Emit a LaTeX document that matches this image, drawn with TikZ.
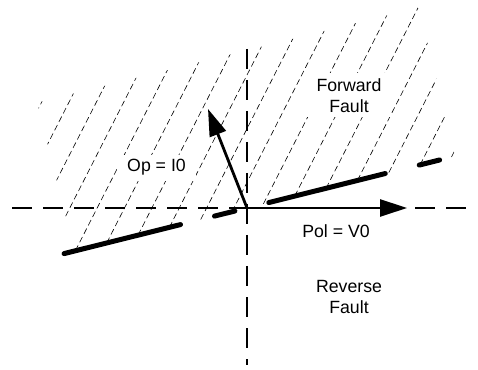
\documentclass[tikz,border=0pt]{standalone}
\usepackage{fontspec}
\setmainfont{Liberation Sans}
\usetikzlibrary{arrows.meta}

\begin{document}
\begin{tikzpicture}[
    x=1pt, y=1pt,
    font=\fontsize{17.7}{21}\selectfont,
    axis/.style={line width=2pt, dash pattern=on 20pt off 11pt},
    hatch/.style={line width=0.6pt, dash pattern=on 6pt off 3.5pt},
    bound/.style={line width=5pt, line cap=round,
                  dash pattern=on 120pt off 35pt on 21pt off 35pt},
    vec/.style={-{Triangle[length=27pt, width=17pt]}, line width=2.8pt},
    zone/.style={align=center, fill=white, inner xsep=10pt, inner ysep=5pt}
]
\useasboundingbox (0,0) rectangle (478,369);

\coordinate (O)      at (247,161);
\coordinate (xl)     at (12,161);
\coordinate (xr)     at (470,161);
\coordinate (yt)     at (247,320);
\coordinate (yb)     at (247,4);
\coordinate (opTip)  at (208,260);
\coordinate (polTip) at (407,161);

% forward zone, hatched
\begin{scope}[shift={(O)}, rotate=14]
  \coordinate (bl) at (-188.5,0);
  \coordinate (br) at (204,0);
  \clip (-178,0) rectangle (215,153);
  \foreach \k in {-12,...,4}
    \draw[hatch] ({81.5+32.3*\k},0) -- ++(49:210);
\end{scope}

\node[zone]              (fwd) at (349,273.5) {Forward\\Fault};
\node[zone, anchor=base] (op)  at (156.5,197) {Op = I0};
\node                    (pol) at (336,138)   {Pol = V0};
\node[align=center]      (rev) at (349,72.5)  {Reverse\\Fault};

\draw[axis]  (xl) -- (xr);
\draw[axis]  (yt) -- (yb);
\draw[bound] (bl) -- (br);

\draw[vec] (O) -- (opTip);
\draw[vec] (O) -- (polTip);
\end{tikzpicture}
\end{document}
